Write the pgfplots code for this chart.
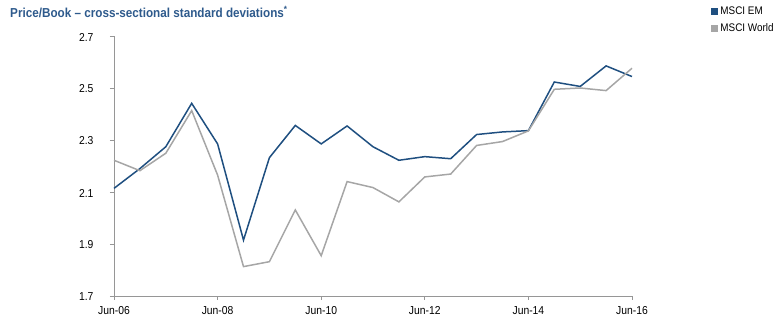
\documentclass[border=0pt]{standalone}
\usepackage{pgfplots}
\pgfplotsset{compat=1.18}
\usepackage{fontspec}
\setmainfont{Liberation Sans}[FakeStretch=0.9]
\definecolor{emblue}{RGB}{31,79,128}
\definecolor{wgray}{RGB}{166,166,166}
\definecolor{titleblue}{RGB}{46,90,140}
\definecolor{axgray}{RGB}{150,150,150}
\begin{document}
\begin{tikzpicture}
\useasboundingbox (0,0) rectangle (780pt,334pt);
\node[anchor=west, font=\bfseries\fontsize{13}{15}\selectfont, text=titleblue, inner sep=0pt] at (10pt,322pt) {Price/Book -- cross-sectional standard deviations\textsuperscript{*}};
\begin{axis}[
  at={(114pt,38pt)}, anchor=south west,
  scale only axis, width=518pt, height=260pt,
  xmin=0, xmax=20, ymin=1.7, ymax=2.7,
  axis x line*=bottom, axis y line*=left,
  axis line style={axgray, line width=0.8pt, -},
  xtick={0,4,8,12,16,20},
  xticklabels={Jun-06,Jun-08,Jun-10,Jun-12,Jun-14,Jun-16},
  ytick={1.7,1.9,2.1,2.3,2.5,2.7},
  yticklabel style={/pgf/number format/fixed, /pgf/number format/precision=1, /pgf/number format/fixed zerofill, xshift=-13pt, yshift=-1pt},
  /pgf/number format/assume math mode=true,
  tick align=outside, major tick length=4pt,
  tick style={axgray, line width=0.8pt},
  ticklabel style={font=\fontsize{11.5}{13}\selectfont},
  xticklabel style={yshift=-3pt},
  clip=false,
  legend style={at={(1.153,1.12)}, anchor=north west, draw=none, fill=none, font=\fontsize{11}{12}\selectfont, row sep=3.5pt, inner sep=0pt},
  legend cell align=left,
  legend image code/.code={\fill[#1,draw=none] (1pt,-3.5pt) rectangle (8pt,3.5pt);},
]
\addplot[emblue, line width=1.5pt] coordinates {
(0,2.114) (1,2.19) (2,2.274) (3,2.441) (4,2.285) (5,1.915) (6,2.232) (7,2.356) (8,2.285) (9,2.354)
(10,2.274) (11,2.222) (12,2.236) (13,2.228) (14,2.321) (15,2.331) (16,2.336) (17,2.523) (18,2.506) (19,2.585) (20,2.544)};
\addlegendentry{MSCI EM}
\addplot[wgray, line width=1.5pt] coordinates {
(0,2.222) (1,2.182) (2,2.249) (3,2.413) (4,2.165) (5,1.813) (6,1.832) (7,2.031) (8,1.855) (9,2.140)
(10,2.117) (11,2.062) (12,2.158) (13,2.169) (14,2.279) (15,2.294) (16,2.335) (17,2.495) (18,2.500) (19,2.490) (20,2.576)};
\addlegendentry{MSCI World}
\end{axis}
\end{tikzpicture}
\end{document}
